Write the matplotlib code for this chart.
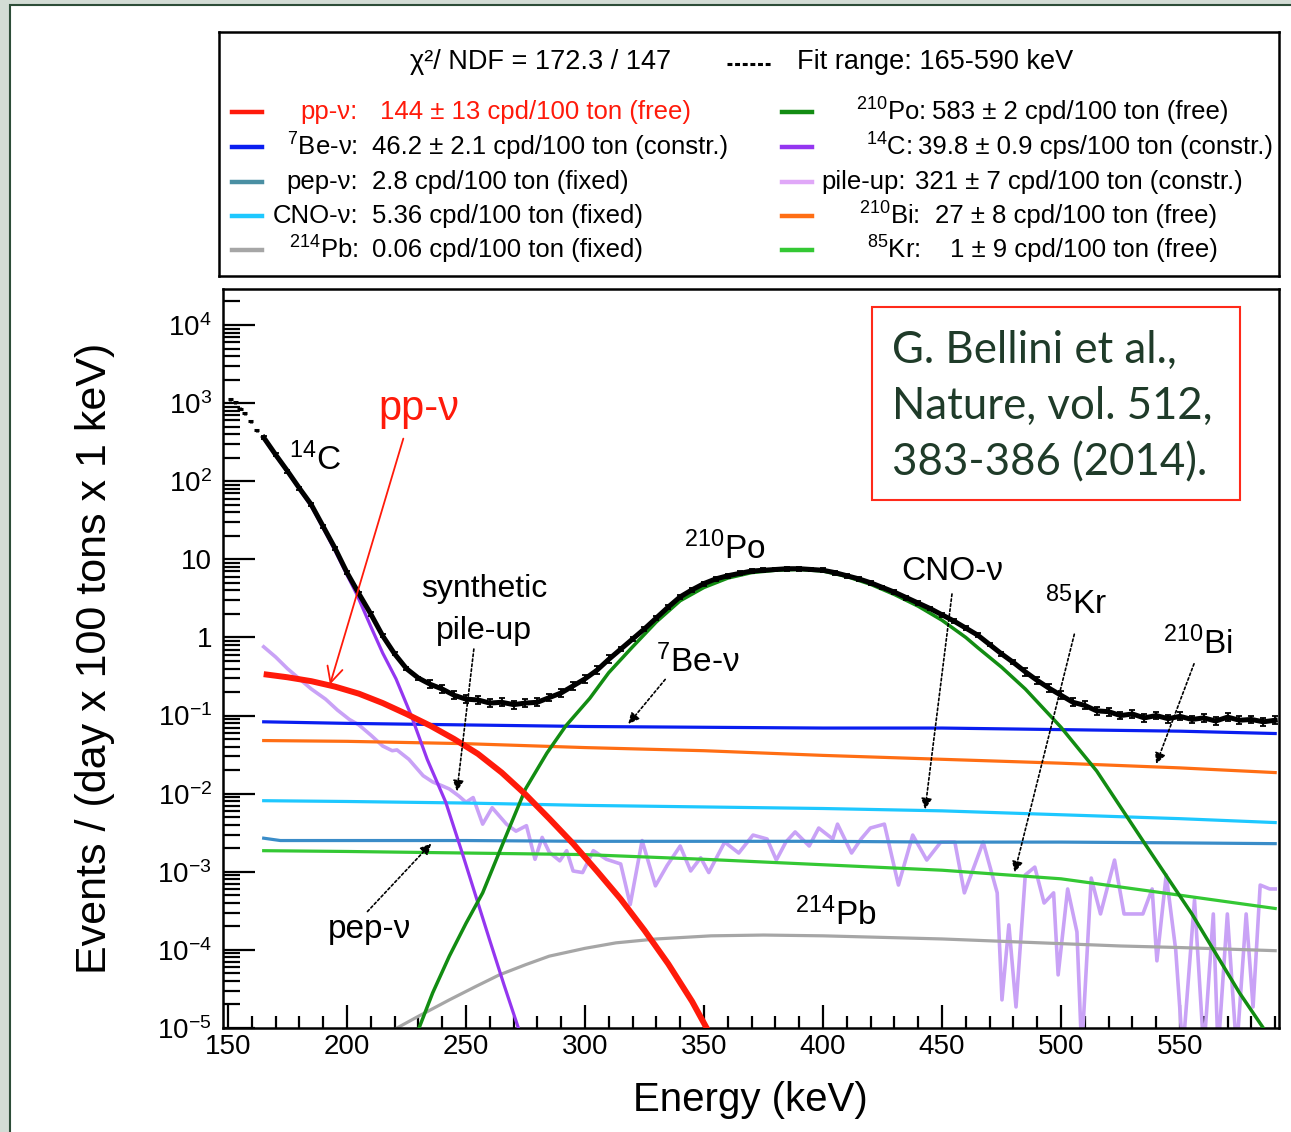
import numpy as np
import matplotlib
matplotlib.use('Agg')
import matplotlib.pyplot as plt
from matplotlib.patches import Rectangle
from matplotlib.lines import Line2D
from matplotlib.ticker import FixedLocator, FixedFormatter, LogLocator, NullFormatter

plt.rcParams['font.family'] = ['Liberation Sans', 'DejaVu Sans']
plt.rcParams['mathtext.fontset'] = 'custom'
plt.rcParams['mathtext.rm'] = 'Liberation Sans'
plt.rcParams['mathtext.it'] = 'Liberation Sans:italic'
plt.rcParams['mathtext.bf'] = 'Liberation Sans:bold'
plt.rcParams['mathtext.default'] = 'regular'

W, H = 1291, 1132

# ---------------- data (log10 of events / (day x 100 t x keV)) ----------------
data_low_E = [151, 153, 155, 157, 159.5, 162]
data_low_log = [3.05, 3.01, 2.93, 2.87, 2.77, 2.65]

data_E = list(range(165, 591, 5))
data_log = [2.56, 2.34, 2.13, 1.91, 1.70, 1.42, 1.14, 0.83, 0.56, 0.30,
            0.02, -0.21, -0.40, -0.52, -0.60, -0.66, -0.74, -0.79, -0.80, -0.84,
            -0.83, -0.86, -0.84, -0.83, -0.77, -0.71, -0.62, -0.53, -0.42, -0.28,
            -0.15, -0.02, 0.11, 0.25, 0.39, 0.52, 0.61, 0.69, 0.75, 0.79,
            0.82, 0.85, 0.86, 0.87, 0.88, 0.88, 0.87, 0.86, 0.83, 0.79,
            0.75, 0.70, 0.64, 0.58, 0.51, 0.44, 0.37, 0.29, 0.21, 0.12,
            0.03, -0.09, -0.21, -0.32, -0.44, -0.55, -0.65, -0.74, -0.83, -0.87,
            -0.94, -0.95, -1.00, -0.98, -1.03, -1.00, -1.04, -1.01, -1.05, -1.03,
            -1.07, -1.02, -1.06, -1.05, -1.08, -1.06]
data_err_log = [0.02] * 14 + [0.05] * 16 + [0.025] * 34 + [0.05] * 22

# pp-nu
pp_E = [165, 175, 185, 195, 205, 215, 225, 235, 245, 255, 265, 275, 285, 295,
        305, 315, 325, 335, 345, 352]
pp_log = [-0.47, -0.51, -0.56, -0.63, -0.72, -0.84, -0.98, -1.13, -1.30, -1.49,
          -1.73, -2.01, -2.32, -2.64, -2.99, -3.35, -3.75, -4.18, -4.66, -5.05]

# 14C
c14_E = [165, 170, 175, 180, 185, 190, 195, 200, 204, 210, 215, 220.6, 227,
         233.7, 241.5, 248, 254, 260, 266, 272, 274]
c14_log = [2.55, 2.33, 2.12, 1.90, 1.68, 1.40, 1.11, 0.80, 0.56, 0.14, -0.20,
           -0.53, -1.00, -1.56, -2.11, -2.72, -3.30, -3.88, -4.45, -5.00, -5.20]

# 210Po
po_E = [229, 236, 243, 250, 257, 266, 275, 284, 292, 302, 310, 320, 330, 340,
        350, 360, 370, 380, 390, 400, 410, 420, 430, 440, 450, 460, 465, 475,
        485, 500, 515, 535, 555, 575, 585, 587]
po_log = [-5.10, -4.55, -4.08, -3.66, -3.27, -2.60, -1.94, -1.48, -1.13, -0.78,
          -0.45, -0.12, 0.20, 0.47, 0.64, 0.76, 0.83, 0.86, 0.87, 0.85, 0.78,
          0.68, 0.55, 0.40, 0.22, 0.00, -0.13, -0.38, -0.66, -1.15, -1.71,
          -2.63, -3.54, -4.55, -5.00, -5.10]

# nearly flat components
flat_E = [165, 200, 250, 300, 350, 400, 450, 500, 550, 590]
be7_log = [-1.08, -1.10, -1.12, -1.14, -1.15, -1.16, -1.16, -1.18, -1.20, -1.23]
bi210_log = [-1.32, -1.33, -1.36, -1.41, -1.45, -1.51, -1.56, -1.61, -1.67, -1.73]
cno_log = [-2.09, -2.10, -2.12, -2.15, -2.17, -2.19, -2.22, -2.27, -2.32, -2.37]
kr85_log = [-2.73, -2.74, -2.76, -2.78, -2.84, -2.91, -2.98, -3.09, -3.30, -3.47]
pep_E = [165, 172, 200, 250, 300, 350, 400, 450, 500, 550, 590]
pep_log = [-2.57, -2.60, -2.60, -2.60, -2.61, -2.61, -2.61, -2.62, -2.62, -2.63, -2.64]

# 214Pb
pb_E = [215, 221, 230, 243, 254, 264, 275, 285, 300, 313, 330, 353, 375, 400,
        425, 450, 475, 500, 525, 550, 570, 590]
pb_log = [-5.10, -5.00, -4.85, -4.64, -4.47, -4.32, -4.19, -4.08, -3.98, -3.91,
          -3.86, -3.82, -3.81, -3.82, -3.84, -3.86, -3.89, -3.92, -3.95, -3.97,
          -3.99, -4.01]

# synthetic pile-up
pile_E = [165, 170, 175, 180, 185, 191, 196, 201, 205, 210, 215, 219, 221, 226,
          232, 236, 240, 243, 247, 250, 253, 257, 261, 267, 271, 275.4, 279, 282,
          285, 289.4, 292.3, 295, 299, 303.5, 309, 315, 319, 324, 329.6, 334.5,
          340, 344.4, 348.6, 352, 355.6, 358.7, 364.6, 370.6, 376.5, 380.4,
          384.4, 388.3, 394.2, 398.2, 404.1, 406.1, 412, 416, 419.9, 425.8,
          431.7, 437.7, 443.6, 449.5, 455.4, 459.4, 467.3, 473.2, 475.2, 478.1,
          481.1, 485, 489, 492.9, 496.9, 498.8, 502.8, 506.7, 508.7, 512.7,
          516.6, 522.5, 526.5, 530.4, 534.4, 538.3, 540.3, 544.2, 548.2, 551.2,
          556.1, 560, 564, 566, 569.9, 573.8, 577.8, 580.7, 583.7, 587.7, 590]
pile_log = [-0.12, -0.25, -0.40, -0.53, -0.66, -0.79, -0.93, -1.05, -1.12, -1.25,
            -1.39, -1.45, -1.44, -1.56, -1.77, -1.85, -1.90, -1.94, -2.03, -2.11,
            -2.05, -2.39, -2.18, -2.39, -2.48, -2.41, -2.84, -2.56, -2.75, -2.86,
            -2.73, -2.99, -3.01, -2.73, -2.84, -2.90, -3.42, -2.60, -3.18, -2.92,
            -2.67, -2.99, -2.82, -3.01, -2.80, -2.62, -2.76, -2.53, -2.58, -2.85,
            -2.62, -2.49, -2.67, -2.44, -2.58, -2.39, -2.76, -2.58, -2.44, -2.39,
            -3.17, -2.53, -2.85, -2.62, -2.62, -3.27, -2.62, -3.27, -4.64, -3.68,
            -4.73, -3.04, -2.94, -3.40, -3.27, -4.32, -3.22, -3.77, -5.30, -3.08,
            -3.54, -2.85, -3.54, -3.54, -3.54, -3.22, -4.14, -3.04, -4.00, -5.30,
            -3.36, -5.30, -3.54, -5.30, -3.54, -5.30, -3.54, -4.73, -3.17, -3.22,
            -3.22]

xticks = [150, 200, 250, 300, 350, 400, 450, 500, 550]
yticks = [1e-5, 1e-4, 1e-3, 1e-2, 1e-1, 1, 10, 1e2, 1e3, 1e4]
ylabels = [r'$10^{-5}$', r'$10^{-4}$', r'$10^{-3}$', r'$10^{-2}$', r'$10^{-1}$',
           '1', '10', r'$10^{2}$', r'$10^{3}$', r'$10^{4}$']

left_labels = ['pp-ν:', r'$^{7}$Be-ν:', 'pep-ν:', 'CNO-ν:', r'$^{214}$Pb:']
left_values = ['144 ± 13 cpd/100 ton (free)', '46.2 ± 2.1 cpd/100 ton (constr.)',
               '2.8 cpd/100 ton (fixed)', '5.36 cpd/100 ton (fixed)',
               '0.06 cpd/100 ton (fixed)']
right_labels = [r'$^{210}$Po:', r'$^{14}$C:', 'pile-up:', r'$^{210}$Bi:', r'$^{85}$Kr:']
right_values = ['583 ± 2 cpd/100 ton (free)', '39.8 ± 0.9 cps/100 ton (constr.)',
                '321 ± 7 cpd/100 ton (constr.)', '27 ± 8 cpd/100 ton (free)',
                '1 ± 9 cpd/100 ton (free)']

C_RED = '#ff1a0a'
C_BLUE = '#0a1ef0'
C_PEP = '#3a8cc8'
C_CNO = '#1ec8ff'
C_PB = '#a6a6a6'
C_PO = '#128c12'
C_C14 = '#9436f0'
C_PILE = '#c9a2f6'
C_BI = '#ff6e14'
C_KR = '#34c834'

def lin(v):
    return 10.0 ** np.asarray(v)

# ---------------- figure ----------------
fig = plt.figure(figsize=(W / 100, H / 100), dpi=100, facecolor='#d3dcd5')
fig.add_artist(Rectangle((10 / W, -0.01), 1.02, 1 - 5 / H + 0.01,
                         transform=fig.transFigure, facecolor='white',
                         edgecolor='#2d4d38', lw=1.5, zorder=-5))

ax = fig.add_axes([223 / W, 1 - 1028 / H, (1279 - 223) / W, (1028 - 289) / H])
ax.set_yscale('log')
ax.set_xlim(147.9, 591.6)
ax.set_ylim(1e-5, 2.89e4)

ax.plot(pile_E, lin(pile_log), color=C_PILE, lw=2.6, zorder=2)
ax.plot(pb_E, lin(pb_log), color=C_PB, lw=2.3, zorder=2)
ax.plot(flat_E, lin(be7_log), color=C_BLUE, lw=2.3, zorder=3)
ax.plot(flat_E, lin(bi210_log), color=C_BI, lw=2.3, zorder=3)
ax.plot(flat_E, lin(cno_log), color=C_CNO, lw=2.3, zorder=3)
ax.plot(pep_E, lin(pep_log), color=C_PEP, lw=2.3, zorder=3)
ax.plot(flat_E, lin(kr85_log), color=C_KR, lw=2.3, zorder=3)
ax.plot(c14_E, lin(c14_log), color=C_C14, lw=2.3, zorder=4)
ax.plot(po_E, lin(po_log), color=C_PO, lw=2.5, zorder=4)
ax.plot(pp_E, lin(pp_log), color=C_RED, lw=4.3, zorder=4, solid_capstyle='butt')

dl = np.array(data_log)
de = np.array(data_err_log)
dy = lin(dl)
ax.errorbar(data_E, dy, yerr=[dy - lin(dl - de), lin(dl + de) - dy],
            fmt='none', ecolor='black', elinewidth=1.3, capsize=2.5, capthick=1.3,
            zorder=6)
ax.plot(data_E, dy, color='black', lw=3.6, zorder=6)
ll = np.array(data_low_log)
ly = lin(ll)
ax.errorbar(data_low_E, ly, xerr=1.1, yerr=[ly - lin(ll - 0.02), lin(ll + 0.02) - ly],
            fmt='none', ecolor='black', elinewidth=2.2, zorder=6)

# ticks
ax.xaxis.set_major_locator(FixedLocator(xticks))
ax.xaxis.set_minor_locator(FixedLocator(list(range(150, 592, 10))))
ax.tick_params(axis='x', which='major', direction='in', length=16.5, width=1.6,
               top=False, labelsize=20, pad=4)
ax.tick_params(axis='x', which='minor', direction='in', length=8.5, width=1.6, top=False)
ax.yaxis.set_major_locator(FixedLocator(yticks))
ax.yaxis.set_major_formatter(FixedFormatter(ylabels))
ax.yaxis.set_minor_locator(LogLocator(base=10, subs=np.arange(2, 10) * 1.0, numticks=100))
ax.yaxis.set_minor_formatter(NullFormatter())
ax.tick_params(axis='y', which='major', direction='in', length=23, width=1.6,
               right=False, labelsize=20, pad=8)
ax.tick_params(axis='y', which='minor', direction='in', length=12, width=1.6, right=False)
for s in ax.spines.values():
    s.set_linewidth(1.8)

# annotations
ax.text(230, 850, 'pp-ν', color=C_RED, fontsize=30, ha='center', va='center', zorder=8)
ax.annotate('', xy=(192.5, 0.23), xytext=(224, 380),
            arrowprops=dict(arrowstyle='->', color=C_RED, lw=1.3, mutation_scale=28),
            zorder=8)
ax.text(175.5, 190, r'$^{14}$C', fontsize=24, ha='left', va='center', zorder=8)
ax.text(257.5, 4.2, 'synthetic', fontsize=23, ha='center', va='center', zorder=8)
ax.text(257.5, 1.2, 'pile-up', fontsize=23, ha='center', va='center', zorder=8)
ax.text(358.8, 13.7, r'$^{210}$Po', fontsize=24, ha='center', va='center', zorder=8)
ax.text(347.5, 0.48, r'$^{7}$Be-ν', fontsize=24, ha='center', va='center', zorder=8)
ax.text(454.2, 6.9, 'CNO-ν', fontsize=24, ha='center', va='center', zorder=8)
ax.text(506.5, 2.7, r'$^{85}$Kr', fontsize=24, ha='center', va='center', zorder=8)
ax.text(557.5, 0.83, r'$^{210}$Bi', fontsize=24, ha='center', va='center', zorder=8)
ax.text(405.2, 2.8e-4, r'$^{214}$Pb', fontsize=24, ha='center', va='center', zorder=8)
ax.text(209.4, 1.8e-4, 'pep-ν', fontsize=24, ha='center', va='center', zorder=8)

dotted = dict(arrowstyle='-|>', color='black', lw=1.2, linestyle=(0, (1.5, 1.5)),
              mutation_scale=16, shrinkA=0, shrinkB=0)
for start, end in [((253.3, 0.71), (246.2, 0.0107)),
                   ((333.7, 0.29), (318.2, 0.078)),
                   ((454.2, 3.6), (442.9, 0.0063)),
                   ((505.6, 1.1), (480.5, 0.00098)),
                   ((555.9, 0.46), (540.0, 0.024)),
                   ((208.6, 3.1e-4), (235.4, 2.3e-3))]:
    ax.annotate('', xy=end, xytext=start, arrowprops=dotted, zorder=8)

# axis labels
fig.text(95 / W, 1 - 658 / H, 'Events / (day x 100 tons x 1 keV)', rotation=90,
         fontsize=31, ha='center', va='center')
fig.text(750 / W, 1 - 1100 / H, 'Energy (keV)', fontsize=29, ha='center', va='center')

# citation box
fig.add_artist(Rectangle((872 / W, 1 - 500 / H), 368 / W, 193 / H,
                         transform=fig.transFigure, facecolor='white',
                         edgecolor='#ff2a1a', lw=1.5, zorder=5))
for txt, py in [('G. Bellini et al.,', 350), ('Nature, vol. 512,', 406),
                ('383-386 (2014).', 463)]:
    fig.text(892 / W, 1 - py / H, txt, fontfamily='Lato', fontsize=31.5,
             color='#1f3b29', ha='left', va='center', zorder=6)

# legend panel
lg = fig.add_axes([219 / W, 1 - 276 / H, 1060 / W, 244 / H])
lg.set_xlim(219, 1279)
lg.set_ylim(276, 32)
lg.set_xticks([])
lg.set_yticks([])
for s in lg.spines.values():
    s.set_linewidth(1.8)
lg.text(410, 62, 'χ²/ NDF = 172.3 / 147', fontsize=19.5, ha='left', va='center')
lg.add_line(Line2D([727, 772], [64, 64], color='black', lw=2.2, linestyle=(0, (1.6, 0.9))))
lg.text(797, 62, 'Fit range: 165-590 keV', fontsize=19.5, ha='left', va='center')

rows = [112, 147, 182, 216, 250]
left_colors = [C_RED, C_BLUE, '#4a8fa3', C_CNO, C_PB]
right_colors = [C_PO, C_C14, '#e0a8f8', C_BI, C_KR]
right_lab_x = [925, 912, 906, 920, 920]
right_val_x = [932, 918, 915, 935, 950]
for i, y in enumerate(rows):
    lg.add_line(Line2D([232, 262], [y, y], color=left_colors[i], lw=3.2))
    tc = C_RED if i == 0 else 'black'
    lg.text(358, y, left_labels[i], fontsize=18.5, ha='right', va='center', color=tc)
    lg.text(380 if i == 0 else 372, y, left_values[i], fontsize=18.5, ha='left',
            va='center', color=tc)
    lg.add_line(Line2D([782, 812], [y, y], color=right_colors[i], lw=3.2))
    lg.text(right_lab_x[i], y, right_labels[i], fontsize=18.5, ha='right', va='center')
    lg.text(right_val_x[i], y, right_values[i], fontsize=18.5, ha='left', va='center')

fig.savefig('out.png', dpi=100, facecolor=fig.get_facecolor())
